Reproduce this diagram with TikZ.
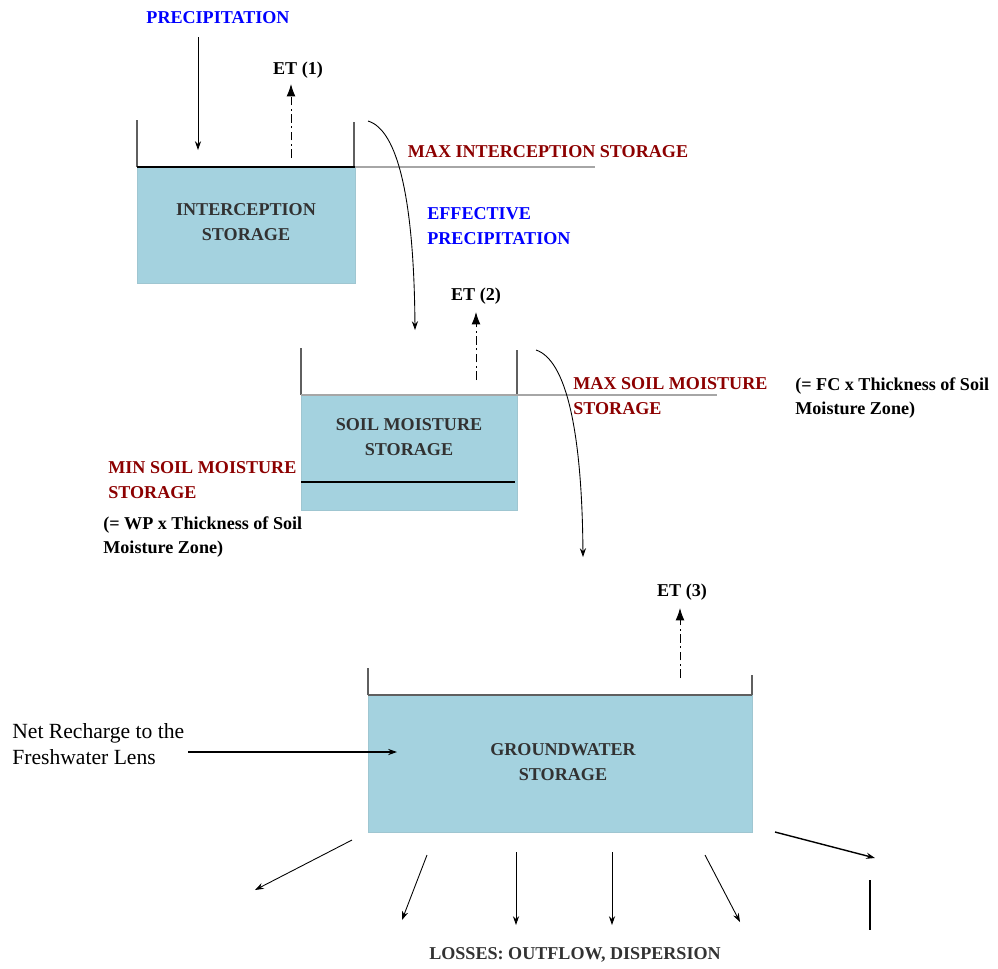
\documentclass[tikz,border=0pt]{standalone}
\usepackage{fontspec}
\setmainfont{Liberation Serif}
\usetikzlibrary{arrows.meta}
\definecolor{water}{RGB}{164,210,223}
\definecolor{maroon}{RGB}{140,0,0}
\definecolor{wallgray}{RGB}{95,95,95}
\definecolor{inktext}{RGB}{50,50,50}
\begin{document}
\begin{tikzpicture}[x=0.02cm, y=-0.02cm,
    every node/.style={font=\fontsize{10.3}{14}\selectfont\bfseries, inner sep=0pt, align=center},
    etflow/.style={line width=0.5pt, dash pattern=on 5pt off 2pt on 1pt off 2pt, -{Latex[length=7pt,width=5pt]}},
    flow/.style={line width=0.5pt, -{Stealth[length=5pt,width=3.5pt]}},
    wall/.style={wallgray, line width=0.7pt},
    note/.style={anchor=west, align=left}]
  \useasboundingbox (0,0) rectangle (998,968);
  % --- interception tank ---
  \fill[water, draw=water!85!gray] (137,167) rectangle (355,283);
  \draw[wall] (137,120) -- (137,167);
  \draw[wall] (354,122) -- (354,167);
  \draw[gray!70, line width=1pt] (355,167) -- (595,167);
  \draw[black, line width=1.2pt] (137,167) -- (355,167);
  \node[inktext] (ibox) at (246,222) {INTERCEPTION\\STORAGE};
  \node[blue] (precip) at (218,18) {PRECIPITATION};
  \coordinate (pin) at (198,150);
  \draw[flow] (198,37) -- (pin);
  \node (et1) at (298,70) {ET (1)};
  \coordinate (et1base) at (291,158);
  \draw[etflow] (et1base) -- (291,84);
  \node[maroon] (max1) at (548,152) {MAX INTERCEPTION STORAGE};
  \node[blue, note] (effp) at (427,226) {EFFECTIVE\\PRECIPITATION};
  \coordinate (c1a) at (368,121);
  \coordinate (c1b) at (415,330);
  \draw[flow] (c1a) .. controls (398,130) and (414,200) .. (c1b);
  % --- soil moisture tank ---
  \fill[water, draw=water!85!gray] (301,395) rectangle (517,510);
  \draw[wall] (301,348) -- (301,395);
  \draw[wall] (517,350) -- (517,395);
  \draw[gray!70, line width=1pt] (301,395) -- (717,395);
  \draw[black, line width=1pt] (301,482) -- (515,482);
  \node[inktext] (sbox) at (409,437) {SOIL MOISTURE\\STORAGE};
  \node (et2) at (476,296) {ET (2)};
  \coordinate (et2base) at (476,380);
  \draw[etflow] (et2base) -- (476,312);
  \node[maroon, note] (max2) at (573,396) {MAX SOIL MOISTURE\\STORAGE};
  \node[note] (fcnote) at (795,398) {(= FC x Thickness of Soil\\Moisture Zone)};
  \node[maroon, note] (min2) at (108,480) {MIN SOIL MOISTURE\\STORAGE};
  \node[note] (wpnote) at (103,537) {(= WP x Thickness of Soil\\Moisture Zone)};
  \coordinate (c2a) at (536,350);
  \coordinate (c2b) at (583,557);
  \draw[flow] (c2a) .. controls (566,360) and (582,430) .. (c2b);
  % --- groundwater tank ---
  \fill[water, draw=water!85!gray] (368,695) rectangle (752,832);
  \draw[wall] (368,668) -- (368,695);
  \draw[wall] (752,675) -- (752,695);
  \draw[wallgray, line width=1.2pt] (368,695) -- (752,695);
  \node[inktext] (gbox) at (563,762) {GROUNDWATER\\STORAGE};
  \node (et3) at (682,592) {ET (3)};
  \coordinate (et3base) at (680,678);
  \draw[etflow] (et3base) -- (680,608);
  \node[note, font=\fontsize{12.3}{14.7}\selectfont] (recharge) at (12,744) {Net Recharge to the\\Freshwater Lens};
  \coordinate (rin) at (397,752);
  \draw[flow, line width=0.8pt] (188,752) -- (rin);
  % --- losses ---
  \draw[flow] (352,840) -- (255,890);
  \draw[flow] (427,855) -- (402,920);
  \draw[flow] (516,852) -- (516,925);
  \draw[flow] (612,852) -- (612,925);
  \draw[flow] (705,855) -- (740,922);
  \draw[flow, line width=0.8pt] (775,832) -- (875,858);
  \draw[line width=1.5pt] (870,880) -- (870,930);
  \node[inktext] (losses) at (575,955) {LOSSES: OUTFLOW, DISPERSION};
\end{tikzpicture}
\end{document}
